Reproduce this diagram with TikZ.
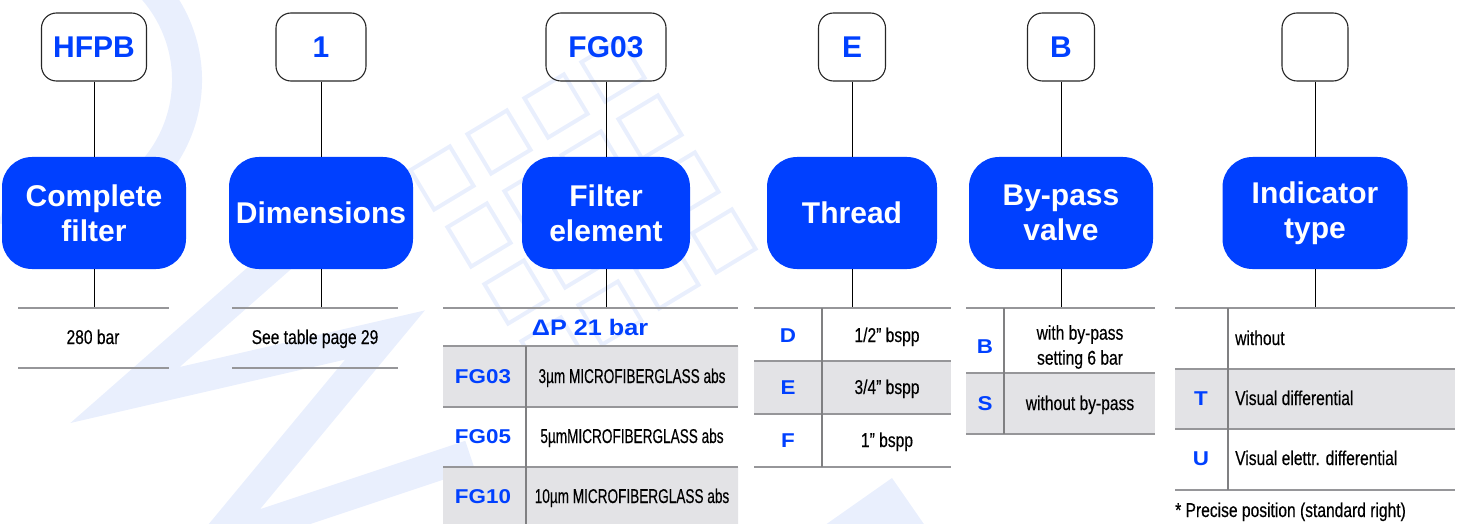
\documentclass[tikz,border=0pt]{standalone}
\usepackage{fontspec}
\setmainfont{Liberation Sans}
\newfontfamily\condfont[FakeStretch=0.78, FakeBold=0.3]{Liberation Sans}
\newfontfamily\slimfont[FakeStretch=0.68, FakeBold=0.3]{Liberation Sans}
\newfontfamily\widefont[FakeStretch=1.12]{Liberation Sans}
\usetikzlibrary{positioning,calc}
\definecolor{hfblue}{RGB}{0,64,255}
\definecolor{rowgrey}{RGB}{227,227,230}
\definecolor{rulegrey}{RGB}{150,150,153}
\definecolor{divgrey}{RGB}{128,128,130}
\definecolor{markblue}{RGB}{233,239,253}

\begin{document}
\begin{tikzpicture}[x=1pt, y=-1pt,
    codebox/.style={draw=black!85, line width=1.1pt, rounded corners=15pt, minimum width=#1, minimum height=68pt,
      inner sep=0pt, text=hfblue, font=\fontsize{30}{34}\selectfont\bfseries},
    titlebox/.style={fill=hfblue, rounded corners=30pt, minimum width=#1, minimum height=112pt, inner sep=0pt,
      text=white, align=center, font=\fontsize{30}{35}\selectfont\bfseries},
    link/.style={line width=0.9pt, black},
    rule/.style={line width=1.8pt, rulegrey},
    divider/.style={line width=2.6pt, divgrey},
    cell/.style={anchor=base, inner sep=0pt, font=\condfont\fontsize{20}{25}\selectfont, align=center},
    key/.style={anchor=base, inner sep=0pt, text=hfblue, font=\widefont\bfseries\fontsize{20}{24}\selectfont}]
  \useasboundingbox (0,0) rectangle (1462,524);
  % ================================================================ faint logo behind
  \begin{scope}[markblue]
    \draw[line width=30pt] ([shift={(-115:137)}]50,80) arc[start angle=-115, end angle=110, radius=137];
    \draw[line width=30pt, line join=miter] (330,215) -- (125,395) -- (385,335) -- (215,540) -- (470,455);
    \fill (818,530) -- (892,478) -- (928,530) -- cycle;
    \foreach \i in {0,...,3} \foreach \j in {0,...,3} {
      \draw[line width=4pt, shift={($(613,70)+\i*(-57,36)+\j*(37,57)$)}, rotate=31] (-23,-23) rectangle (23,23);
    }
  \end{scope}
  % ================================================================ code boxes and titles
  \foreach \n/\x/\cw/\tw/\cd/\lab in {
      1/94/105/184/HFPB/{Complete\\filter},
      2/321/90/184/1/Dimensions,
      3/606/120/168/FG03/{Filter\\element},
      4/852/67/170/E/Thread,
      5/1061/67/184/B/{By-pass\\valve},
      6/1315/66/185/{}/{Indicator\\type}} {
    \node[codebox=\cw pt] (code\n) at (\x,47) {\cd};
    \node[titlebox=\tw pt] (title\n) at (\x,213) {\lab};
    \coordinate (foot\n) at (\x,308);
    \draw[link] (code\n) -- (title\n);
    \draw[link] (title\n) -- (foot\n);
  }
  % ================================================================ complete filter, dimensions
  \draw[rule] (18,308) -- (169,308) (18,368) -- (169,368);
  \node[cell] (press) at (93,344) {280 bar};
  \draw[rule] (232,308) -- (398,308) (232,368) -- (398,368);
  \node[cell] (dims) at (315,344) {See table page 29};
  % ================================================================ filter element
  \fill[rowgrey] (443,346) rectangle (738,407) (443,467) rectangle (738,530);
  \foreach \y in {308,346,407,467} \draw[rule] (443,\y) -- (738,\y);
  \draw[divider] (526,346) -- (526,530);
  \node[key, font=\widefont\bfseries\fontsize{22.5}{26}\selectfont] (dp) at (590,335) {ΔP 21 bar};
  \foreach \y/\k/\d in {383/FG03/3µm MICROFIBERGLASS abs, 443/FG05/5µmMICROFIBERGLASS abs,
      503/FG10/10µm MICROFIBERGLASS abs} {
    \node[key] (k\k) at (483,\y) {\k};
    \node[cell, font=\slimfont\fontsize{20}{25}\selectfont] (d\k) at (632,\y) {\d};
  }
  % ================================================================ thread
  \fill[rowgrey] (754,361) rectangle (951,414);
  \foreach \y in {308,361,414,467} \draw[rule] (754,\y) -- (951,\y);
  \draw[divider] (822,308) -- (822,467);
  \foreach \y/\k/\d in {342/D/{1/2” bspp}, 394/E/{3/4” bspp}, 447/F/{1” bspp}} {
    \node[key] (t\k) at (788,\y) {\k};
    \node[cell] (th\k) at (887,\y) {\d};
  }
  % ================================================================ by-pass valve
  \fill[rowgrey] (966,373) rectangle (1155,434);
  \foreach \y in {308,373,434} \draw[rule] (966,\y) -- (1155,\y);
  \draw[divider] (1004,308) -- (1004,434);
  \node[key] (bB) at (985,353) {B};
  \node[cell, anchor=center] (bpB) at (1080,347) {with by-pass\\setting 6 bar};
  \node[key] (bS) at (985,410) {S};
  \node[cell] (bpS) at (1080,410) {without by-pass};
  % ================================================================ indicator type
  \fill[rowgrey] (1175,369) rectangle (1455,429);
  \foreach \y in {308,369,429,490} \draw[rule] (1175,\y) -- (1455,\y);
  \draw[divider] (1228,308) -- (1228,490);
  \node[cell, anchor=base west] (inone) at (1235,345) {without};
  \node[key] (iT) at (1201,405) {T};
  \node[cell, anchor=base west] (ivT) at (1235,405) {Visual differential};
  \node[key] (iU) at (1201,465) {U};
  \node[cell, anchor=base west] (ivU) at (1235,465) {Visual elettr. differential};
  \node[cell, anchor=base west] (note) at (1175,517) {* Precise position (standard right)};
\end{tikzpicture}
\end{document}
